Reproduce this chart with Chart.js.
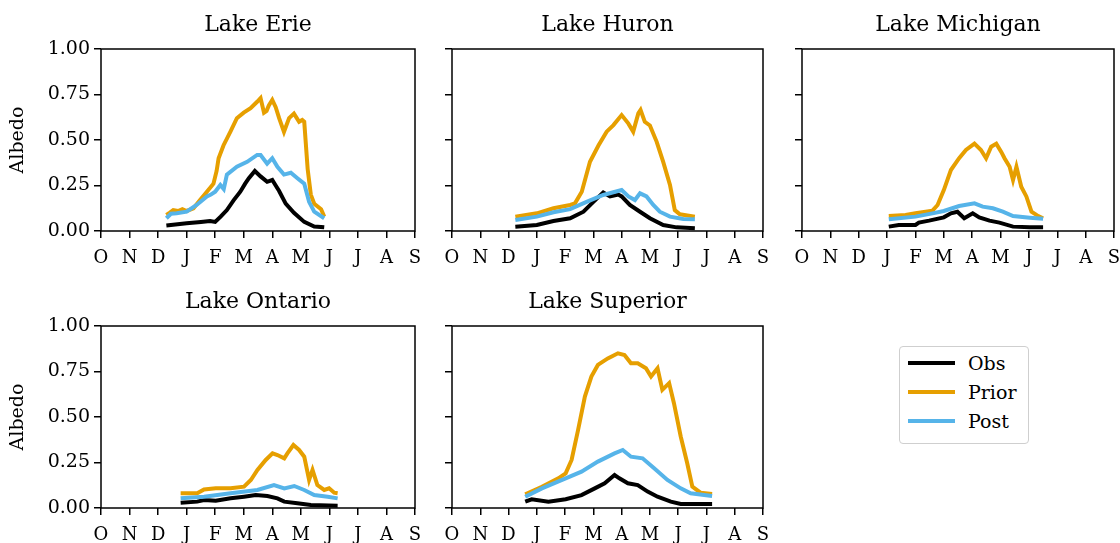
<!DOCTYPE html>
<html>
<head>
<meta charset="utf-8">
<script src="https://cdn.jsdelivr.net/npm/chart.js@4"></script>
<style>
  html, body { margin: 0; padding: 0; background: #fff; overflow: hidden; }
  body { width: 1120px; height: 543px; position: relative; font-family: 'DejaVu Serif', serif; }
  canvas { position: absolute; }
  .legend { position: absolute; left: 899px; top: 346px; width: 128px; height: 96px; border: 1px solid #cfcfcf; border-radius: 4px; background: #fff; }
  .legend .sw { position: absolute; left: 8px; width: 47px; height: 4px; }
  .legend .lb { position: absolute; left: 68px; font-size: 19px; line-height: 22px; color: #000; }
</style>
</head>
<body>
<div class="legend" id="legend"></div>
<script>
// x in months since Oct 1 (0 = O ... 11 = S), y = albedo
var MONTHS = ['O', 'N', 'D', 'J', 'F', 'M', 'A', 'M', 'J', 'J', 'A', 'S'];
var SERIES = ['Obs', 'Prior', 'Post'];
var COLORS = ['#000000', '#E69F00', '#56B4E9'];

var erieObs = [[2.29,0.03],[3.0,0.042],[3.5,0.05],[3.82,0.055],[4.0,0.05],[4.2,0.08],[4.41,0.115],[4.65,0.17],[4.88,0.216],[5.05,0.26],[5.18,0.29],[5.39,0.33],[5.59,0.30],[5.82,0.27],[6.0,0.28],[6.12,0.25],[6.24,0.22],[6.47,0.15],[6.76,0.10],[7.12,0.05],[7.47,0.025],[7.82,0.02]];
var eriePrior = [[2.29,0.088],[2.4,0.10],[2.53,0.115],[2.7,0.11],[2.85,0.12],[3.0,0.11],[3.24,0.125],[3.47,0.17],[3.71,0.216],[3.94,0.26],[4.05,0.33],[4.12,0.40],[4.29,0.47],[4.53,0.545],[4.76,0.62],[5.0,0.65],[5.24,0.675],[5.47,0.71],[5.59,0.73],[5.71,0.65],[5.8,0.66],[5.88,0.69],[6.0,0.72],[6.12,0.68],[6.24,0.62],[6.41,0.545],[6.59,0.62],[6.76,0.645],[6.94,0.60],[7.05,0.61],[7.12,0.60],[7.24,0.34],[7.35,0.20],[7.47,0.15],[7.71,0.12],[7.82,0.08]];
var eriePost = [[2.29,0.07],[2.45,0.095],[2.65,0.098],[3.0,0.106],[3.35,0.143],[3.71,0.19],[3.85,0.20],[4.0,0.216],[4.18,0.253],[4.3,0.23],[4.41,0.31],[4.76,0.353],[5.12,0.38],[5.47,0.418],[5.59,0.418],[5.82,0.37],[6.0,0.40],[6.18,0.353],[6.41,0.31],[6.65,0.32],[6.88,0.29],[7.12,0.26],[7.29,0.16],[7.47,0.106],[7.82,0.07]];

var huronObs = [[2.24,0.024],[3.0,0.033],[3.59,0.055],[4.18,0.07],[4.65,0.106],[5.0,0.16],[5.35,0.212],[5.59,0.19],[5.88,0.20],[6.0,0.19],[6.29,0.143],[6.65,0.106],[7.0,0.07],[7.47,0.033],[7.94,0.02],[8.59,0.015]];
var huronPrior = [[2.24,0.079],[3.0,0.097],[3.59,0.125],[4.18,0.143],[4.35,0.152],[4.59,0.216],[4.88,0.38],[5.18,0.47],[5.47,0.546],[5.71,0.582],[6.0,0.637],[6.24,0.59],[6.41,0.546],[6.59,0.646],[6.67,0.665],[6.82,0.60],[7.0,0.58],[7.24,0.49],[7.47,0.38],[7.71,0.253],[7.88,0.115],[8.06,0.092],[8.59,0.079]];
var huronPost = [[2.24,0.06],[3.0,0.079],[3.59,0.103],[4.18,0.12],[4.76,0.16],[5.35,0.198],[6.0,0.225],[6.24,0.19],[6.47,0.17],[6.65,0.207],[6.88,0.19],[7.12,0.143],[7.35,0.106],[7.71,0.079],[8.18,0.066],[8.59,0.065]];

var michiganObs = [[3.06,0.024],[3.41,0.033],[4.0,0.033],[4.12,0.046],[4.48,0.057],[5.0,0.075],[5.25,0.097],[5.48,0.106],[5.72,0.07],[6.02,0.097],[6.25,0.075],[6.61,0.057],[6.96,0.046],[7.44,0.024],[8.03,0.02],[8.5,0.02]];
var michiganPrior = [[3.06,0.082],[3.65,0.088],[4.0,0.097],[4.6,0.112],[4.78,0.143],[5.0,0.225],[5.25,0.335],[5.54,0.40],[5.78,0.445],[6.08,0.48],[6.31,0.445],[6.49,0.40],[6.67,0.463],[6.85,0.48],[7.02,0.436],[7.14,0.40],[7.32,0.353],[7.44,0.28],[7.56,0.353],[7.73,0.243],[7.91,0.19],[8.09,0.106],[8.33,0.082],[8.5,0.07]];
var michiganPost = [[3.06,0.064],[4.0,0.079],[4.6,0.097],[5.0,0.11],[5.54,0.137],[6.08,0.152],[6.37,0.134],[6.73,0.125],[7.08,0.106],[7.44,0.082],[8.03,0.073],[8.5,0.067]];

var ontarioObs = [[2.79,0.029],[3.37,0.035],[3.61,0.044],[4.02,0.04],[4.54,0.053],[5.01,0.062],[5.42,0.071],[5.83,0.066],[6.18,0.053],[6.42,0.035],[6.88,0.026],[7.35,0.016],[8.29,0.013]];
var ontarioPrior = [[2.79,0.081],[3.37,0.081],[3.61,0.102],[4.02,0.108],[4.54,0.108],[5.01,0.117],[5.25,0.154],[5.48,0.209],[5.77,0.264],[6.01,0.30],[6.18,0.291],[6.42,0.273],[6.53,0.30],[6.74,0.346],[6.94,0.319],[7.12,0.282],[7.29,0.154],[7.41,0.209],[7.58,0.126],[7.82,0.099],[7.99,0.108],[8.17,0.084],[8.29,0.081]];
var ontarioPost = [[2.79,0.053],[3.61,0.062],[4.54,0.081],[5.48,0.099],[6.06,0.126],[6.42,0.108],[6.77,0.121],[7.12,0.099],[7.47,0.071],[7.94,0.062],[8.29,0.053]];

var superiorObs = [[2.59,0.035],[2.82,0.048],[3.41,0.035],[4.02,0.048],[4.58,0.071],[5.05,0.108],[5.4,0.136],[5.75,0.181],[5.92,0.163],[6.22,0.136],[6.57,0.126],[6.92,0.09],[7.27,0.062],[7.74,0.035],[8.09,0.022],[9.2,0.022]];
var superiorPrior = [[2.59,0.075],[3.18,0.117],[3.76,0.163],[4.02,0.19],[4.23,0.264],[4.46,0.429],[4.7,0.612],[4.93,0.722],[5.16,0.786],[5.51,0.822],[5.87,0.85],[6.1,0.841],[6.33,0.795],[6.57,0.795],[6.86,0.768],[7.04,0.722],[7.27,0.768],[7.44,0.649],[7.68,0.686],[7.85,0.576],[8.09,0.393],[8.32,0.246],[8.5,0.117],[8.79,0.084],[9.2,0.077]];
var superiorPost = [[2.59,0.062],[3.18,0.108],[4.02,0.163],[4.58,0.2],[5.16,0.255],[5.75,0.3],[6.04,0.319],[6.33,0.282],[6.74,0.273],[7.15,0.218],[7.62,0.154],[8.09,0.108],[8.44,0.081],[9.2,0.066]];

// plot boxes: pl/pr = plot left/right edge, top = plot top (title sits above)
var panels = [
  { title: 'Lake Erie', pl: 101, pr: 415, top: 49, yw: 101, yLabels: true, data: [erieObs, eriePrior, eriePost] },
  { title: 'Lake Huron', pl: 452, pr: 763, top: 49, yw: 20, yLabels: false, data: [huronObs, huronPrior, huronPost] },
  { title: 'Lake Michigan', pl: 802, pr: 1114, top: 49, yw: 20, yLabels: false, data: [michiganObs, michiganPrior, michiganPost] },
  { title: 'Lake Ontario', pl: 101, pr: 415, top: 326, yw: 101, yLabels: true, data: [ontarioObs, ontarioPrior, ontarioPost] },
  { title: 'Lake Superior', pl: 452, pr: 763, top: 326, yw: 20, yLabels: false, data: [superiorObs, superiorPrior, superiorPost] }
];

var FONT = 'DejaVu Serif';
var TITLE_H = 49, PLOT_H = 182, H = 275;

var framePlugin = {
  id: 'frame',
  afterDatasetsDraw: function(chart) {
    var a = chart.chartArea, ctx = chart.ctx;
    ctx.save();
    ctx.strokeStyle = '#000';
    ctx.lineWidth = 1.5;
    ctx.strokeRect(a.left, a.top, a.right - a.left, a.bottom - a.top);
    ctx.restore();
  }
};

function toXY(arr) { return arr.map(function(p) { return { x: p[0], y: p[1] }; }); }

function makePanel(p) {
  // canvas symmetric round the plot so the title centres over it
  var w = p.yw * 2 + (p.pr - p.pl);
  var c = document.createElement('canvas');
  c.width = w; c.height = H;
  c.style.left = (p.pl - p.yw) + 'px'; c.style.top = (p.top - TITLE_H) + 'px';
  c.style.width = w + 'px'; c.style.height = H + 'px';
  document.body.appendChild(c);
  var ds = [];
  for (var i = 0; i < 3; i++) {
    ds.push({ label: SERIES[i], data: toXY(p.data[i]), borderColor: COLORS[i], backgroundColor: COLORS[i], borderWidth: 4, pointRadius: 0, tension: 0, fill: false, order: 3 - i });
  }
  new Chart(c.getContext('2d'), {
    type: 'line',
    data: { datasets: ds },
    options: {
      responsive: false, animation: false, devicePixelRatio: 1,
      layout: { padding: 0 },
      plugins: {
        legend: { display: false }, tooltip: { enabled: false },
        title: { display: true, text: p.title, color: '#000', font: { family: FONT, size: 22, weight: 'normal' }, padding: { top: 12.5, bottom: 10.1 } }
      },
      scales: {
        x: {
          type: 'linear', min: 0, max: 11,
          afterBuildTicks: function(s) { s.ticks = MONTHS.map(function(m, i) { return { value: i }; }); },
          afterFit: function(s) { s.height = H - TITLE_H - PLOT_H; s.paddingLeft = 0; s.paddingRight = p.yw; },
          grid: { display: true, drawOnChartArea: false, drawTicks: true, tickLength: 7, color: '#000', lineWidth: 1.5 },
          border: { display: false },
          ticks: { color: '#000', padding: 10, maxRotation: 0, autoSkip: false, font: { family: FONT, size: 18 }, callback: function(v) { return MONTHS[v]; } }
        },
        y: {
          min: 0, max: 1,
          afterBuildTicks: function(s) { s.ticks = [0, 0.25, 0.5, 0.75, 1].map(function(v) { return { value: v }; }); },
          afterFit: function(s) { s.width = p.yw; s.paddingTop = 0; s.paddingBottom = 0; },
          grid: { display: true, drawOnChartArea: false, drawTicks: true, tickLength: 7, color: '#000', lineWidth: 1.5 },
          border: { display: false },
          title: { display: p.yLabels, text: 'Albedo', color: '#000', font: { family: FONT, size: 19 }, padding: { top: 6.6, bottom: 0 } },
          ticks: { display: p.yLabels, color: '#000', padding: 4, font: { family: FONT, size: 19 }, callback: function(v) { return v.toFixed(2); } }
        }
      }
    },
    plugins: [framePlugin]
  });
}

panels.forEach(makePanel);

// legend
var lg = document.getElementById('legend');
var rowsY = [16, 45, 74];
for (var i = 0; i < 3; i++) {
  var sw = document.createElement('div');
  sw.className = 'sw'; sw.style.top = (rowsY[i] - 2) + 'px'; sw.style.background = COLORS[i];
  var lb = document.createElement('div');
  lb.className = 'lb'; lb.style.top = (rowsY[i] - 11) + 'px'; lb.textContent = SERIES[i];
  lg.appendChild(sw); lg.appendChild(lb);
}
</script>
</body>
</html>
